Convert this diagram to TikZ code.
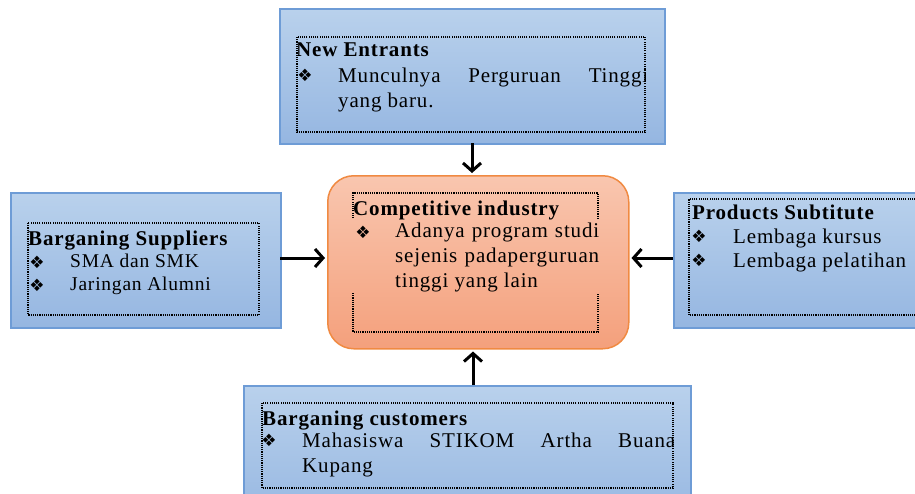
\documentclass[tikz,border=0pt]{standalone}
\usepackage{fontspec}
\setmainfont{Liberation Serif}[LetterSpace=4]
\newfontfamily\symfont{DejaVu Sans}
\usetikzlibrary{arrows.meta}
\definecolor{bluetop}{HTML}{B9D1EC}
\definecolor{bluebot}{HTML}{95B6E1}
\definecolor{blueedge}{HTML}{6E9CD6}
\definecolor{ortop}{HTML}{F9C6AF}
\definecolor{orbot}{HTML}{F4A07C}
\definecolor{oredge}{HTML}{F08A42}
\tikzset{
  bluebox/.style={draw=blueedge, line width=1.5pt, top color=bluetop, bottom color=bluebot, anchor=north west, inner sep=0pt},
  orbox/.style={draw=oredge, line width=1.5pt, top color=ortop, bottom color=orbot, rounded corners=26pt, anchor=north west, inner sep=0pt},
  frame/.style={line width=1.2pt, dash pattern=on 1.1pt off 1.1pt, black},
  txt/.style={anchor=base west, inner sep=0pt, font=\fontsize{21}{25}\selectfont},
  ttl/.style={anchor=base west, inner sep=0pt, font=\fontsize{21}{25}\selectfont\bfseries},
  smalltxt/.style={anchor=base west, inner sep=0pt, font=\fontsize{19.5}{23}\selectfont},
  bul/.style={anchor=center, inner sep=0pt, font=\symfont\fontsize{17}{17}\selectfont},
  arr/.style={line width=3pt, -{Straight Barb[length=8pt,width=18pt]}, shorten >=2pt}
}
\begin{document}
\begin{tikzpicture}[x=1pt,y=-1pt]
\useasboundingbox (0,0) rectangle (915,493);
% boxes
\node[bluebox, minimum width=385pt, minimum height=135pt] (ne) at (279,8) {};
\node[bluebox, minimum width=270pt, minimum height=135pt] (su) at (10,192) {};
\node[bluebox, minimum width=270pt, minimum height=135pt] (pr) at (673,192) {};
\node[bluebox, minimum width=447pt, minimum height=140pt] (cu) at (243,385) {};
\node[orbox, minimum width=301pt, minimum height=173pt] (ci) at (327,175) {};
% dotted frames
\draw[frame] (297,37) rectangle (645,132);
\draw[frame] (28,223) rectangle (259,315);
\draw[frame] (935,199) -- (689,199) -- (689,315) -- (935,315);
\draw[frame] (262,403) rectangle (673,488);
\draw[frame] (353,218) -- (353,193) -- (598,193) -- (598,218);
\draw[frame] (353,293) -- (353,332) -- (598,332) -- (598,293);
% New Entrants
\node[ttl] (net) at (296,56) {New Entrants};
\node[bul] (neb) at (305,75) {❖};
\begin{scope}
\clip (296,37) rectangle (645,132);
\node[txt] (ne1) at (338,82) {\makebox[310pt][s]{Munculnya Perguruan Tinggi}};
\end{scope}
\node[txt] (ne2) at (338,107) {yang baru.};
% Suppliers
\node[ttl] (sut) at (28,245) {Barganing Suppliers};
\node[bul] (sub1) at (37,262) {❖};
\node[smalltxt] (su1) at (70,267) {SMA dan SMK};
\node[bul] (sub2) at (37,285) {❖};
\node[smalltxt] (su2) at (70,290) {Jaringan Alumni};
% Competitive industry
\node[ttl] (cit) at (353,215) {Competitive industry};
\node[bul] (cib) at (363,232) {❖};
\node[txt] (ci1) at (395,237) {\makebox[204pt][s]{Adanya program studi}};
\node[txt] (ci2) at (395,262) {\makebox[204pt][s]{sejenis padaperguruan}};
\node[txt] (ci3) at (395,287) {tinggi yang lain};
% Products Subtitute
\node[ttl] (prt) at (692,219) {Products Subtitute};
\node[bul] (prb1) at (699,236) {❖};
\node[txt] (pr1) at (733,243) {Lembaga kursus};
\node[bul] (prb2) at (699,260) {❖};
\node[txt] (pr2) at (733,267) {Lembaga pelatihan};
% Barganing customers
\node[ttl] (cut) at (262,425) {Barganing customers};
\node[bul] (cub) at (269,440) {❖};
\begin{scope}
\clip (262,403) rectangle (673,488);
\node[txt] (cu1) at (302,447) {\makebox[373pt][s]{Mahasiswa STIKOM Artha Buana}};
\end{scope}
\node[txt] (cu2) at (302,472) {Kupang};
% arrows
\coordinate (topa) at (472,143);
\coordinate (bota) at (473,385);
\coordinate (lefta) at (280,258);
\coordinate (righta) at (673,258);
\draw[arr] (topa) -- (topa |- ci.north);
\draw[arr] (bota) -- (bota |- ci.south);
\draw[arr] (lefta) -- (lefta -| ci.west);
\draw[arr] (righta) -- (righta -| ci.east);
\end{tikzpicture}
\end{document}
